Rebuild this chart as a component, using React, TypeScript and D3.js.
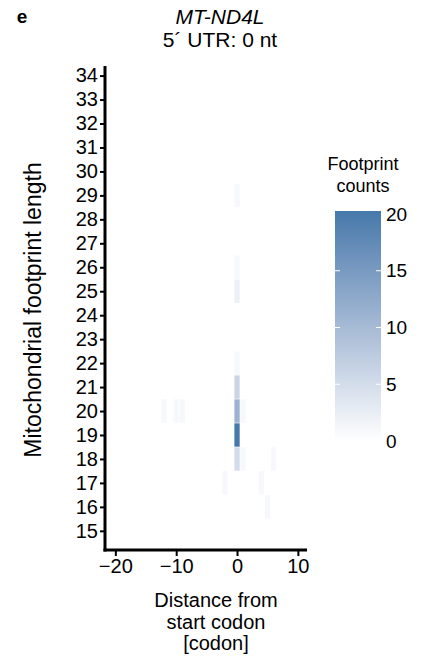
import React from 'react';
import { axisBottom, axisLeft, interpolateLab, range, scaleLinear, select } from 'd3';

// footprint cells: codon offset, footprint length, count
const codons = [0, 0, 0, 0, 0, 0, 1, -12, -10, -9, 0, 0, 1, 6, -2, 4, 5];
const lengths = [29, 26, 25, 22, 21, 20, 20, 20, 20, 20, 19, 18, 18, 18, 17, 17, 16];
const counts = [1, 1, 2, 1, 6, 11, 1, 1, 1, 1, 20, 5, 1, 1, 1, 1, 1];

const xTicks = [-20, -10, 0, 10];
const yTicks = range(15, 35);
const legendTicks = [0, 5, 10, 15, 20];

const W = 433;
const H = 658;
const FONT = 'Liberation Sans, Arial, sans-serif';

const App = () => {
    const svgRef = React.useRef<SVGSVGElement | null>(null);

    React.useEffect(() => {
        const svg = select(svgRef.current);
        svg.selectAll('*').remove();

        const left = 105;
        const right = 307;
        const top = 66;
        const bottom = 550;

        const x = scaleLinear().domain([-21.7, 11.5]).range([left, right]);
        const y = scaleLinear().domain([14.2, 34.4]).range([bottom, top]);
        const color = scaleLinear<string>()
            .domain([0, 20])
            .range(['#ffffff', '#4579ab'])
            .interpolate(interpolateLab);

        // cells
        const cw = x(1) - x(0);
        const ch = y(0) - y(1);
        svg.append('g')
            .selectAll('rect')
            .data(codons.map((c, i) => ({ c, l: lengths[i], n: counts[i] })))
            .enter()
            .append('rect')
            .attr('x', (d) => x(d.c) - cw / 2 + 0.4)
            .attr('width', cw - 0.8)
            .attr('y', (d) => y(d.l) - ch / 2 + 0.3)
            .attr('height', ch - 0.6)
            .attr('fill', (d) => color(d.n));

        // axes
        const xAxis = svg.append('g')
            .attr('transform', `translate(0,${bottom})`)
            .call(axisBottom(x).tickValues(xTicks).tickSize(6).tickPadding(3)
                .tickFormat((d) => String(d).replace('-', '\u2212')));
        const yAxis = svg.append('g')
            .attr('transform', `translate(${left},0)`)
            .call(axisLeft(y).tickValues(yTicks).tickSize(5).tickPadding(2));

        [xAxis, yAxis].forEach((g) => {
            g.select('.domain').attr('stroke', '#000').attr('stroke-width', 3);
            g.selectAll('.tick line').attr('stroke', '#000').attr('stroke-width', 2);
            g.selectAll('.tick text')
                .attr('fill', '#000')
                .attr('font-family', FONT)
                .attr('font-size', 20);
        });
        xAxis.select('.domain').attr('d', `M${left - 1.5},0H${right}`);
        yAxis.select('.domain').attr('d', `M0,${top}V${bottom + 1.5}`);

        // titles
        const text = (tx: number, ty: number, s: string, size = 20) => svg.append('text')
            .attr('x', tx)
            .attr('y', ty)
            .attr('text-anchor', 'middle')
            .attr('font-family', FONT)
            .attr('font-size', size)
            .attr('fill', '#000')
            .text(s);

        text(22, 23, 'e', 19).attr('font-weight', 'bold');
        text(220, 24, 'MT-ND4L', 21).attr('font-style', 'italic');
        text(220, 47, '5\u00b4 UTR: 0 nt', 21);
        text(216, 607, 'Distance from');
        text(216, 629, 'start codon');
        text(216, 650, '[codon]');
        text(0, 0, 'Mitochondrial footprint length', 23)
            .attr('transform', `translate(41,310) rotate(-90)`);

        // legend
        const ly = scaleLinear().domain([0, 20]).range([441, 214]);
        const lx0 = 335;
        const lx1 = 381;
        const defs = svg.append('defs');
        const grad = defs.append('linearGradient')
            .attr('id', 'legendGrad')
            .attr('x1', 0).attr('y1', 1).attr('x2', 0).attr('y2', 0);
        range(0, 21).forEach((v) => {
            grad.append('stop')
                .attr('offset', `${(v / 20) * 100}%`)
                .attr('stop-color', color(v));
        });
        svg.append('rect')
            .attr('x', lx0)
            .attr('y', ly(20) - 3)
            .attr('width', lx1 - lx0)
            .attr('height', ly(0) - ly(20) + 3)
            .attr('fill', 'url(#legendGrad)');
        const lt = svg.append('g');
        legendTicks.forEach((v) => {
            if (v > 0 && v < 20) {
                lt.append('line').attr('x1', lx0).attr('x2', lx0 + 5)
                    .attr('y1', ly(v)).attr('y2', ly(v))
                    .attr('stroke', '#fff').attr('stroke-width', 1);
                lt.append('line').attr('x1', lx1 - 5).attr('x2', lx1)
                    .attr('y1', ly(v)).attr('y2', ly(v))
                    .attr('stroke', '#fff').attr('stroke-width', 1);
            }
            lt.append('text')
                .attr('x', lx1 + 5)
                .attr('y', ly(v))
                .attr('dy', '0.35em')
                .attr('font-family', FONT)
                .attr('font-size', 19)
                .attr('fill', '#000')
                .text(v);
        });
        text(363, 170, 'Footprint', 18);
        text(363, 192, 'counts', 18);
    }, []);

    return (
        <svg
            ref={svgRef}
            width={W}
            height={H}
            style={{ position: 'absolute', left: 0, top: 0, background: '#fff' }}
        />
    );
};

export default App;
